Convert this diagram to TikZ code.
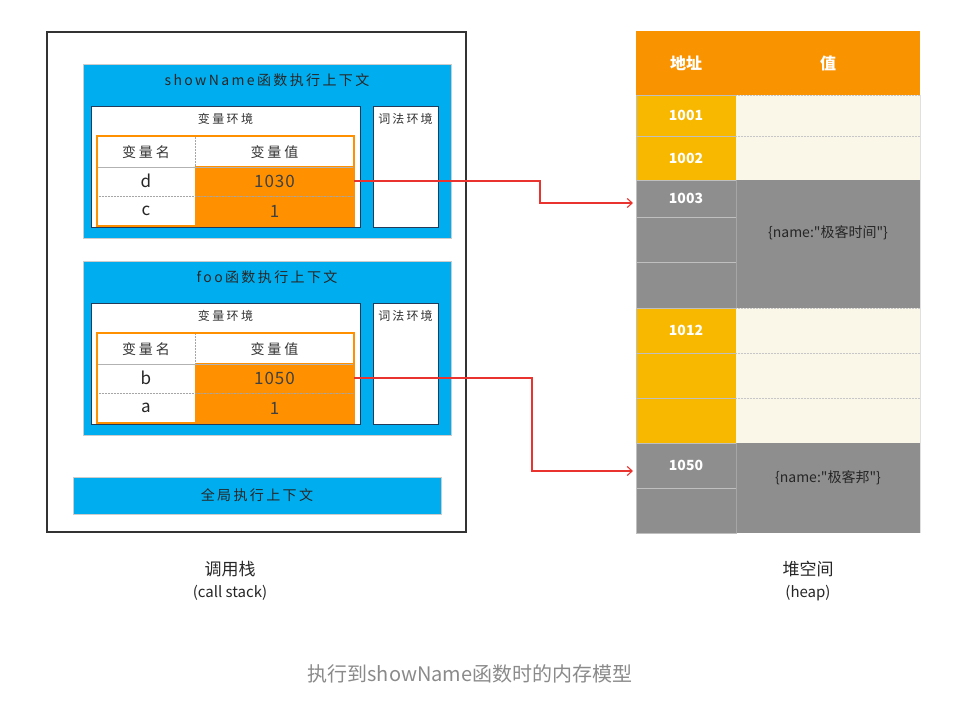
\documentclass[tikz,border=0pt]{standalone}
\usepackage{fontspec}
\newfontfamily\cjk{Noto Sans CJK SC}
\usetikzlibrary{positioning,arrows.meta}

\definecolor{ctxblue}{HTML}{00AEEF}
\definecolor{tblorange}{HTML}{FF9100}
\definecolor{hdrorange}{HTML}{FA9300}
\definecolor{addryellow}{HTML}{F8B800}
\definecolor{heapgray}{HTML}{8E8E8E}
\definecolor{heapcream}{HTML}{FAF6E8}
\definecolor{envnavy}{HTML}{243B5A}
\definecolor{captiongray}{HTML}{8A8A8A}
\definecolor{refred}{HTML}{E8332E}

\begin{document}
\begin{tikzpicture}[x=1pt,y=-1pt,>={Straight Barb[length=5pt,width=9pt]}]
    \tikzstyle{every node}=[font=\cjk]
    \tikzstyle{box}=[rectangle,inner sep=0pt,outer sep=0pt]
    \tikzstyle{stack frame}=[box,draw=black!80,line width=1.1pt]
    \tikzstyle{context}=[box,fill=ctxblue,draw=black!20,line width=0.4pt]
    \tikzstyle{env}=[box,fill=white,draw=envnavy,line width=0.8pt]
    \tikzstyle{var frame}=[box,draw=tblorange,line width=1.6pt]
    \tikzstyle{head cell}=[box,fill=white,minimum height=30pt,text=black!80,font=\cjk\fontsize{14}{16}\selectfont\addfontfeature{LetterSpace=20}]
    \tikzstyle{name cell}=[box,fill=white,minimum width=98pt,minimum height=30pt,text=black!85,font=\cjk\fontsize{17}{19}\selectfont]
    \tikzstyle{value cell}=[box,fill=tblorange,minimum width=159pt,minimum height=30pt,text=black!75,font=\cjk\fontsize{17}{19}\selectfont\addfontfeature{LetterSpace=6}]
    \tikzstyle{cell rule}=[draw=black!35,densely dotted,line width=0.5pt]
    \tikzstyle{title text}=[text=black!85,font=\cjk\fontsize{14}{16}\selectfont\addfontfeature{LetterSpace=17}]
    \tikzstyle{env text}=[text=black!80,font=\cjk\fontsize{12}{14}\selectfont\addfontfeature{LetterSpace=20}]
    \tikzstyle{lex text}=[text=black!80,font=\cjk\fontsize{12}{14}\selectfont\addfontfeature{LetterSpace=18}]
    \tikzstyle{under text}=[text=black!85,font=\cjk\fontsize{17}{19}\selectfont]
    \tikzstyle{under sub}=[text=black!85,font=\cjk\fontsize{15}{17}\selectfont]
    \tikzstyle{caption}=[text=captiongray,font=\cjk\fontsize{20}{22}\selectfont]
    \tikzstyle{heap head}=[box,fill=hdrorange,minimum height=64pt,text=white,font=\cjk\bfseries\fontsize{16}{18}\selectfont]
    \tikzstyle{addr cell}=[box,draw=black!25,line width=0.5pt,minimum width=100pt,text=white,font=\cjk\bfseries\fontsize{14}{16}\selectfont]
    \tikzstyle{heap cell}=[box,minimum width=184pt]
    \tikzstyle{heap text}=[text=black!85,font=\cjk\fontsize{14}{16}\selectfont]
    \tikzstyle{cream rule}=[draw=black!22,densely dotted,line width=0.5pt]
    \tikzstyle{ref arrow}=[->,draw=refred,line width=1.1pt,shorten >=3pt]

    \useasboundingbox (0,0) rectangle (965,708);

    % Draw the call stack frame
    \node[stack frame,minimum width=419pt,minimum height=500pt] (stack) at (256.5,282) {};

    % Draw the two function contexts
    \foreach \ctx/\dy/\title/\nA/\vA/\nB/\vB in {show/0/showName函数执行上下文/d/1030/c/1, foo/197/foo函数执行上下文/b/1050/a/1} {
        \node[context,minimum width=368pt,minimum height=174pt] (ctx-\ctx) at (267,151.5+\dy) {};
        \node[title text] (title-\ctx) at (267,80+\dy) {\title};
        \node[env,minimum width=269pt,minimum height=121pt] (env-\ctx) at (225.5,166.5+\dy) {};
        \node[env text] (envlabel-\ctx) at (225.5,119+\dy) {变量环境};
        \node[env,minimum width=65pt,minimum height=121pt] (lex-\ctx) at (405.5,166.5+\dy) {};
        \node[lex text] (lexlabel-\ctx) at (405.5,119+\dy) {词法环境};
        % the variable table
        \node[head cell,minimum width=98pt] (hname-\ctx) at (146,152+\dy) {变量名};
        \node[head cell,minimum width=159pt] (hval-\ctx) at (274.5,152+\dy) {变量值};
        \node[name cell] (name1-\ctx) at (146,181+\dy) {\nA};
        \node[value cell] (val1-\ctx) at (274.5,181+\dy) {\vA};
        \node[name cell] (name2-\ctx) at (146,211+\dy) {\nB};
        \node[value cell] (val2-\ctx) at (274.5,211+\dy) {\vB};
        \draw[cell rule] (hname-\ctx.north east) -- (hname-\ctx.south east);
        \draw[cell rule] (name2-\ctx.north west) -- (val2-\ctx.north east);
        \draw[draw=black!30,line width=0.4pt] (hname-\ctx.south west) -- (hval-\ctx.south east);
        \node[var frame,minimum width=257pt,minimum height=90pt] (tbl-\ctx) at (225.5,181+\dy) {};
    }

    % Draw the global context
    \node[context,title text,minimum width=368pt,minimum height=37pt] (global) at (257,495.5) {全局执行上下文};

    % Draw the heap header
    \node[heap head,minimum width=100pt] (addr-head) at (686,63) {地址};
    \node[heap head,minimum width=184pt] (val-head) at (828,63) {值};

    % Draw the address column
    \foreach \name/\top/\bot/\col/\txt in {1001/95/136/addryellow/1001, 1002/136/180/addryellow/1002,
            1003/180/217/heapgray/1003, g1/217/262/heapgray/, g2/262/308/heapgray/,
            1012/308/353/addryellow/1012, y1/353/398/addryellow/, y2/398/443/addryellow/,
            1050/443/488/heapgray/1050, g3/488/533/heapgray/} {
        \pgfmathsetmacro\h{\bot-\top}
        \pgfmathsetmacro\c{(\top+\bot)/2}
        \node[addr cell,fill=\col,minimum height=\h pt] (addr-\name) at (686,\c) {\txt};
    }

    % Draw the value column
    \foreach \name/\top/\bot in {1001/95/136, 1002/136/180, 1012/308/353, y1/353/398, y2/398/443} {
        \pgfmathsetmacro\h{\bot-\top}
        \pgfmathsetmacro\c{(\top+\bot)/2}
        \node[heap cell,fill=heapcream,minimum height=\h pt] (val-\name) at (828,\c) {};
        \draw[cream rule] (val-\name.north west) -- (val-\name.north east);
    }
    \node[heap cell,fill=heapgray,minimum height=128pt,label={[heap text,yshift=11pt]center:\{name:"极客时间"\}}] (obj-1003) at (828,244) {};
    \node[heap cell,fill=heapgray,minimum height=90pt,label={[heap text,yshift=10pt]center:\{name:"极客邦"\}}] (obj-1050) at (828,488) {};
    \draw[draw=black!35,line width=0.5pt] (obj-1003.north west) -- (obj-1003.south west);
    \draw[draw=black!35,line width=0.5pt] (obj-1050.north west) -- (obj-1050.south west);
    \draw[draw=black!12,line width=0.5pt] (val-1001.north east) -- (obj-1050.south east);

    % Connect the stack values with the heap
    \draw[ref arrow] (val1-show.east) -- ++(186,0) |- ([yshift=-4.5pt]addr-1003.west);
    \draw[ref arrow] (val1-foo.east) -- ++(178,0) |- ([yshift=-5.5pt]addr-1050.west);

    % Annotate the two areas
    \node[under text] (stack-label) at (230,569) {调用栈};
    \node[under sub] (stack-sub) at (230,593) {(call stack)};
    \node[under text] (heap-label) at (808,569) {堆空间};
    \node[under sub] (heap-sub) at (808,593) {(heap)};
    \node[caption] (caption) at (470,674) {执行到showName函数时的内存模型};
\end{tikzpicture}
\end{document}
